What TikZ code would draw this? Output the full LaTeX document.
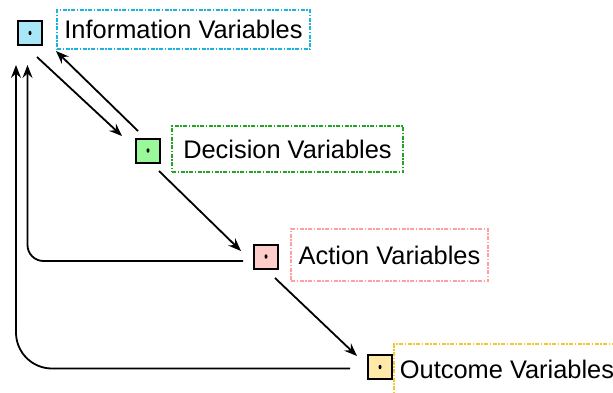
\documentclass[tikz,border=0pt]{standalone}
\usepackage{fontspec}
\setmainfont{Liberation Sans}
\usetikzlibrary{arrows.meta,calc}

\definecolor{infoline}{HTML}{1CB4DE}
\definecolor{infofill}{HTML}{A8E6F8}
\definecolor{decline}{HTML}{22A622}
\definecolor{decfill}{HTML}{99F899}
\definecolor{actline}{HTML}{FFA0A0}
\definecolor{actfill}{HTML}{FFCCCC}
\definecolor{outline}{HTML}{F2C830}
\definecolor{outfill}{HTML}{FFE9A8}

\tikzset{
  varbox/.style={draw=black, line width=2pt, minimum size=24pt, inner sep=0pt},
  lbl/.style={line width=1.4pt, dash pattern=on 4pt off 1.5pt on 1.5pt off 1.5pt,
    inner sep=0pt, text height=18pt, text depth=0pt,
    font=\fontsize{25.4}{30}\selectfont},
  arr/.style={line width=1.8pt, -{Stealth[length=13pt,width=10pt,inset=4.5pt]}},
}

\begin{document}
\begin{tikzpicture}[x=1pt,y=-1pt]
  \useasboundingbox (0,0) rectangle (613,392);

  % variable squares
  \node[varbox, fill=infofill] (info) at (30,33) {};
  \node[varbox, fill=decfill]  (dec)  at (148,150.5) {};
  \node[varbox, fill=actfill]  (act)  at (266,256.5) {};
  \node[varbox, fill=outfill]  (out)  at (380,367) {};
  \foreach \n in {info,dec,act,out}
    \fill (\n.center) ellipse (1.5pt and 2.2pt);

  % labels
  \node[lbl, draw=infoline, minimum width=253pt, minimum height=39pt] (infolbl)
    at (183.5,29.5) {Information Variables};
  \node[lbl, draw=decline, minimum width=231pt, minimum height=46pt] (declbl)
    at (287.5,149) {Decision Variables};
  \node[lbl, draw=actline, minimum width=197pt, minimum height=52pt] (actlbl)
    at (389.5,255) {Action Variables};
  \node[lbl, draw=outline, minimum width=226pt, minimum height=50pt] (outlbl)
    at (507,369) {Outcome Variables};

  % connectors
  \draw[arr] ($(info)+(7,24)$) -- ($(dec)+(-26,-14.5)$);
  \draw[arr] ($(dec)+(-10,-19.5)$) -- ($(info)+(26,18)$);
  \draw[arr] ($(dec)+(11,20.5)$) -- ($(act)+(-25,-5.5)$);
  \draw[arr] ($(act)+(9,21.5)$) -- ($(out)+(-23,-11)$);
  \draw[arr, rounded corners=16pt] ($(act)+(-23,4.5)$) -| ($(info)+(-2.5,32)$);
  \draw[arr, rounded corners=36pt] ($(out)+(-30,1.5)$) -| ($(info)+(-14,32)$);
\end{tikzpicture}
\end{document}
